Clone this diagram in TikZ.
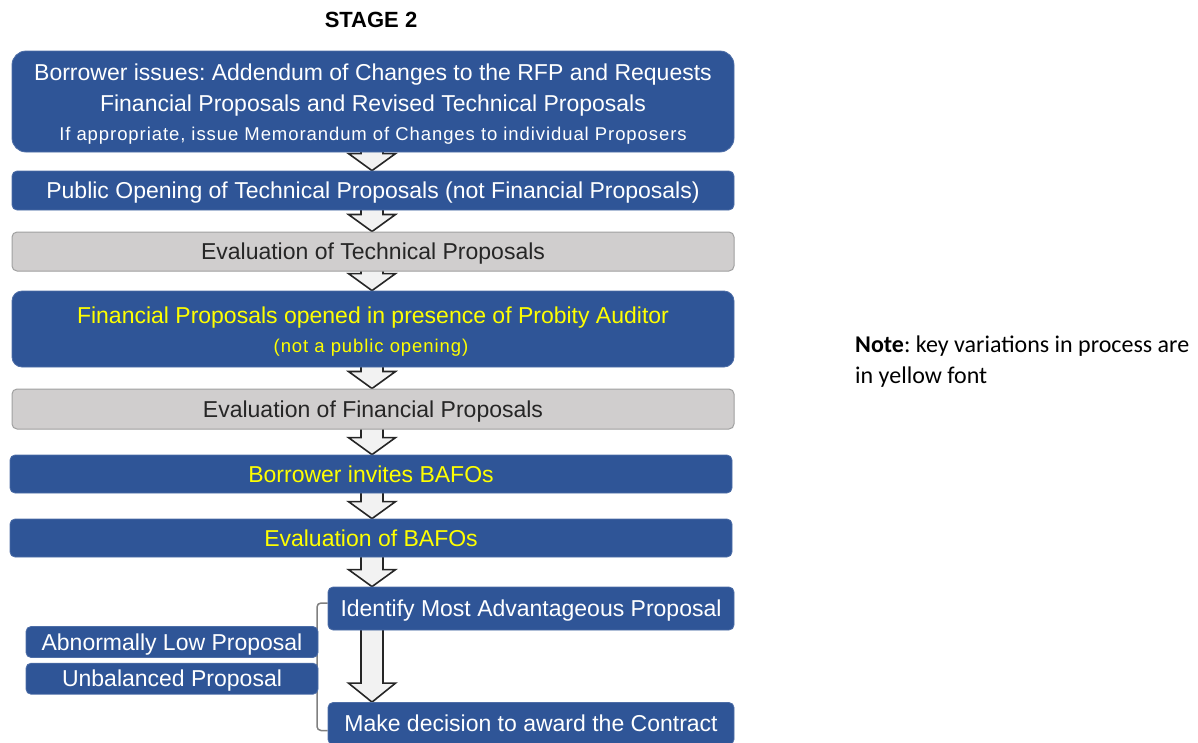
\documentclass[tikz,border=0pt]{standalone}
\usepackage{fontspec}
\setmainfont{Liberation Sans}
\newfontfamily\notefont{Carlito}
\newfontfamily\spacedfont{Liberation Sans}[LetterSpace=5]
\usetikzlibrary{calc}
\definecolor{boxblue}{RGB}{47,85,151}
\definecolor{boxgray}{RGB}{208,206,206}
\definecolor{edgegray}{RGB}{160,160,160}
\definecolor{txtyellow}{RGB}{255,255,0}
\definecolor{txtdark}{RGB}{38,38,38}
\definecolor{arrowfill}{RGB}{242,242,242}
\definecolor{bracketgray}{RGB}{128,128,128}
\pgfdeclarelayer{bg}
\pgfsetlayers{bg,main}
\frenchspacing
\newcommand\blockarr[3]{%
  \draw[blockarrow] let \p1=(ax |- #1.south), \p2=(ax |- #2.north) in
    (\x1-11pt,\y1+6pt) -- (\x1-11pt,\y2+#3pt) -- (\x1-23.5pt,\y2+#3pt) -- (\x2,\y2)
    -- (\x1+23.5pt,\y2+#3pt) -- (\x1+11pt,\y2+#3pt) -- (\x1+11pt,\y1+6pt) -- cycle;}
\begin{document}
\begin{tikzpicture}[x=1pt,y=-1pt,
  bluebox/.style={fill=boxblue, draw=boxblue!85!white, line width=0.8pt, rounded corners=5pt,
    text=white, inner sep=0pt, text height=19pt, text depth=3pt, font=\fontsize{23}{32}\selectfont},
  graybox/.style={fill=boxgray, draw=edgegray, line width=1pt, rounded corners=5pt,
    text=txtdark, inner sep=0pt, text height=19pt, text depth=3pt, font=\fontsize{23}{32}\selectfont},
  bigtext/.style={anchor=base, inner sep=0pt, font=\fontsize{23}{32}\selectfont},
  smalltext/.style={anchor=base, inner sep=0pt, font=\spacedfont\fontsize{18.5}{24}\selectfont},
  notetext/.style={anchor=base west, inner sep=0pt, font=\notefont\fontsize{24}{30}\selectfont},
  blockarrow/.style={fill=arrowfill, draw=black!85, line width=1.6pt, line join=miter},
  bracket/.style={draw=bracketgray, line width=1.5pt, rounded corners=4pt}
]
\useasboundingbox (0,0) rectangle (1198,742);
\coordinate (ax) at (372,0);
\coordinate (brx) at (317,0);

\node[font=\bfseries\fontsize{22}{26}\selectfont, inner sep=0pt] (title) at (371,20) {STAGE 2};

\node[bluebox, rounded corners=14pt, minimum width=722pt, minimum height=101pt] (b1) at (373,101.5) {};
\node[bigtext, text=white] (b1a) at (373,80) {Borrower issues: Addendum of Changes to the RFP and Requests};
\node[bigtext, text=white] (b1b) at (373,111.7) {Financial Proposals and Revised Technical Proposals};
\node[smalltext, text=white] (b1c) at (373,140) {If appropriate, issue Memorandum of Changes to individual Proposers};

\node[bluebox, minimum width=722pt, minimum height=39pt] (b2) at (373,190.5)
  {Public Opening of Technical Proposals (not Financial Proposals)};
\node[graybox, minimum width=722pt, minimum height=39pt] (b3) at (373,251.5)
  {Evaluation of Technical Proposals};

\node[bluebox, rounded corners=10pt, minimum width=722pt, minimum height=76pt] (b4) at (373,329) {};
\node[bigtext, text=txtyellow] (b4a) at (373,323.3) {Financial Proposals opened in presence of Probity Auditor};
\node[smalltext, text=txtyellow] (b4b) at (371,352.5) {(not a public opening)};

\node[graybox, minimum width=722pt, minimum height=40pt] (b5) at (373,409)
  {Evaluation of Financial Proposals};
\node[bluebox, text=txtyellow, minimum width=722pt, minimum height=38pt] (b6) at (371,474)
  {Borrower invites BAFOs};
\node[bluebox, text=txtyellow, minimum width=722pt, minimum height=38pt] (b7) at (371,538)
  {Evaluation of BAFOs};
\node[bluebox, minimum width=406pt, minimum height=43pt] (ide) at (531,608.5)
  {Identify Most Advantageous Proposal};
\node[bluebox, minimum width=406pt, minimum height=42pt] (mak) at (531,723.5)
  {Make decision to award the Contract};
\node[bluebox, minimum width=292pt, minimum height=31pt] (abn) at (172,642)
  {Abnormally Low Proposal};
\node[bluebox, minimum width=292pt, minimum height=31pt] (unb) at (172,678.7)
  {Unbalanced Proposal};

\node[notetext] (note1) at (855,352.7) {\textbf{Note}: key variations in process are};
\node[notetext] (note2) at (855,383.3) {in yellow font};

\begin{pgfonlayer}{bg}
  \blockarr{b1}{b2}{17}
  \blockarr{b2}{b3}{17}
  \blockarr{b3}{b4}{17}
  \blockarr{b4}{b5}{17}
  \blockarr{b5}{b6}{17}
  \blockarr{b6}{b7}{17}
  \blockarr{b7}{ide}{17}
  \blockarr{ide}{mak}{19}
  \draw[bracket] ([yshift=5.5pt]ide.west) -| ([yshift=-7pt]mak.west -| brx) -- ([yshift=-7pt]mak.west);
\end{pgfonlayer}
\end{tikzpicture}
\end{document}
